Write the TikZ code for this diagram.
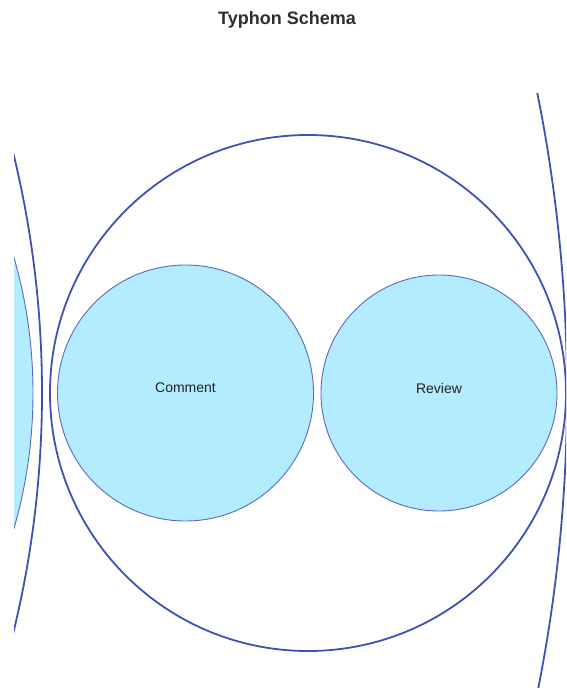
\documentclass[tikz,border=0pt]{standalone}
\usepackage{fontspec}
\setmainfont{Liberation Sans}
\definecolor{ring}{HTML}{3F51B5}
\definecolor{leaf}{HTML}{B3ECFF}
\definecolor{leafedge}{HTML}{5A68C4}
\definecolor{titlec}{HTML}{2E2E2E}
\definecolor{labelc}{HTML}{222222}
\tikzset{
  ringc/.style={circle, draw=ring, line width=1.8pt, inner sep=0pt, fill=none},
  leafc/.style={circle, draw=leafedge, line width=0.9pt, inner sep=0pt, fill=leaf},
  lbl/.style={font=\fontsize{14}{16}\selectfont, text=labelc, inner sep=0pt},
}
\begin{document}
\begin{tikzpicture}[x=1pt,y=-1pt]
\useasboundingbox (0,0) rectangle (566,688);
\node[font=\bfseries\fontsize{18}{21}\selectfont, text=titlec, inner sep=0pt] (title) at (287,20) {Typhon Schema};
\begin{scope}
\clip (14,93) rectangle (566,688);
\node[ringc, minimum size=3030pt] (parent) at (-948,393) {};
\node[ringc, minimum size=2016pt] (sibling) at (-966,393) {};
\node[leafc, minimum size=978pt] (sibleaf) at (-456,393) {};
\node[ringc, minimum size=516pt] (main) at (308,393) {};
\node[leafc, minimum size=256pt] (comment) at (185.5,393) {};
\node[leafc, minimum size=236pt] (review) at (439,393) {};
\end{scope}
\node[lbl] (commentlabel) at (185.5,388) {Comment};
\node[lbl] (reviewlabel) at (439,388) {Review};
\end{tikzpicture}
\end{document}
